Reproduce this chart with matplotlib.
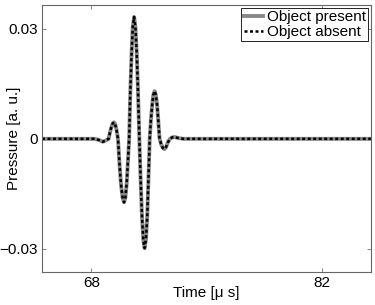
import matplotlib
matplotlib.use("Agg")
import matplotlib.pyplot as plt

plt.rcParams['font.family'] = ['Liberation Sans', 'DejaVu Sans']

# time axis [us] and pressure [a.u.]
t = [65.0, 68.2, 68.45, 68.7, 68.9, 69.05,
     69.13, 69.22, 69.30, 69.38, 69.44, 69.50, 69.56, 69.62,
     69.71, 69.80, 69.90, 69.99, 70.07, 70.15, 70.22, 70.30,
     70.37, 70.45, 70.52, 70.60, 70.68, 70.76, 70.84, 70.92,
     71.00, 71.08, 71.16, 71.24, 71.32, 71.40, 71.47, 71.55,
     71.62, 71.70, 71.77, 71.85, 71.92, 72.00, 72.07, 72.15,
     72.25, 72.35, 72.45, 72.55, 72.65, 72.78, 72.92, 73.06,
     73.3, 73.6, 85.0]
p_present = [0.0, 0.0, -0.0003, -0.0008, -0.0004, 0.0,
             0.0017, 0.0032, 0.0042, 0.0045, 0.0041, 0.0031, 0.0017, 0.0,
             -0.0066, -0.0122, -0.0160, -0.0173, -0.0160, -0.0122, -0.0066, 0.0,
             0.0127, 0.0235, 0.0305, 0.0332, 0.0305, 0.0235, 0.0127, 0.0,
             -0.0114, -0.0211, -0.0275, -0.0298, -0.0275, -0.0211, -0.0114, 0.0,
             0.0050, 0.0092, 0.0120, 0.0130, 0.0120, 0.0092, 0.0050, 0.0,
             -0.0015, -0.0025, -0.0028, -0.0022, -0.0010, 0.0, 0.0004, 0.0005,
             0.0002, 0.0, 0.0]
# both curves lie on top of each other in the picture
p_absent = list(p_present)

xticks = [68, 82]
yticks = [-0.03, 0, 0.03]
yticklabels = ['\u22120.03', '0', '0.03']

fig = plt.figure(figsize=(3.75, 3.05), dpi=100)
ax = fig.add_axes([0.112, 0.108, 0.877, 0.876])

ax.plot(t, p_present, color='#888888', lw=2.8, label='Object present')
ax.plot(t, p_absent, color='black', lw=1.8, linestyle=(0, (1.2, 1.0)), label='Object absent')

ax.set_xlim(65, 85)
ax.set_ylim(-0.0363, 0.0365)
ax.set_xticks(xticks)
ax.set_xticklabels([str(v) for v in xticks])
ax.set_yticks(yticks)
ax.set_yticklabels(yticklabels)
ax.tick_params(direction='in', length=3, width=0.5, labelsize=11,
               top=True, right=True, colors='#555555', labelcolor='black', pad=3)
for s in ax.spines.values():
    s.set_color('#666666')
    s.set_linewidth(0.8)

ax.set_xlabel('Time [\u03bc s]', fontsize=11)
ax.set_ylabel('Pressure [a. u.]', fontsize=11)
ax.xaxis.set_label_coords(0.5, -0.052)
ax.yaxis.set_label_coords(-0.064, 0.502)

leg = ax.legend(loc='upper right', fontsize=11, handlelength=1.3, handletextpad=0.2,
                borderpad=0.15, labelspacing=0.05, borderaxespad=0.2, fancybox=False,
                framealpha=1, edgecolor='black')
leg.get_frame().set_linewidth(0.6)

fig.savefig('out.png', dpi=100)
